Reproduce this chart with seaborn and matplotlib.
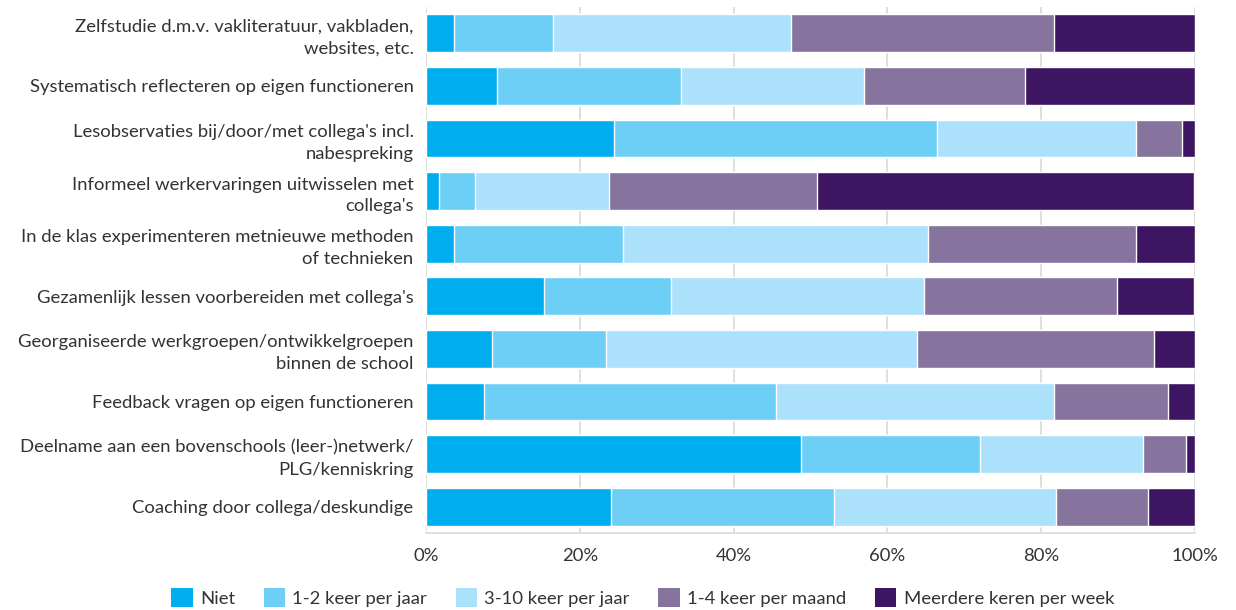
import numpy as np
import pandas as pd
import seaborn as sns
import matplotlib.pyplot as plt
from matplotlib.patches import Patch
from matplotlib.ticker import FuncFormatter

activiteiten = [
    "Zelfstudie d.m.v. vakliteratuur, vakbladen,\nwebsites, etc.",
    "Systematisch reflecteren op eigen functioneren",
    "Lesobservaties bij/door/met collega's incl.\nnabespreking",
    "Informeel werkervaringen uitwisselen met\ncollega's",
    "In de klas experimenteren metnieuwe methoden\nof technieken",
    "Gezamenlijk lessen voorbereiden met collega's",
    "Georganiseerde werkgroepen/ontwikkelgroepen\nbinnen de school",
    "Feedback vragen op eigen functioneren",
    "Deelname aan een bovenschools (leer-)netwerk/\nPLG/kenniskring",
    "Coaching door collega/deskundige",
]

niet = [3.6, 9.2, 24.4, 1.7, 3.6, 15.3, 8.6, 7.5, 48.7, 24.0]
keer_1_2_jaar = [12.9, 24.0, 42.0, 4.7, 22.0, 16.5, 14.8, 38.0, 23.4, 29.1]
keer_3_10_jaar = [30.9, 23.8, 25.9, 17.4, 39.7, 33.0, 40.5, 36.2, 21.1, 28.8]
keer_1_4_maand = [34.3, 20.9, 6.0, 27.0, 27.0, 25.1, 30.8, 14.8, 5.6, 12.0]
meerdere_week = [18.3, 22.1, 1.7, 49.1, 7.7, 10.0, 5.3, 3.5, 1.2, 6.1]

reeksen = ["Niet", "1-2 keer per jaar", "3-10 keer per jaar",
           "1-4 keer per maand", "Meerdere keren per week"]
kleuren = ["#00AEEF", "#6DCFF6", "#ABE1FA", "#86739E", "#3E1562"]

df = pd.DataFrame({
    "activiteit": activiteiten,
    reeksen[0]: niet,
    reeksen[1]: keer_1_2_jaar,
    reeksen[2]: keer_3_10_jaar,
    reeksen[3]: keer_1_4_maand,
    reeksen[4]: meerdere_week,
})
# cumulatieve sommen, zodat we van achter naar voren kunnen stapelen
cum = df[reeksen].cumsum(axis=1)
cum["activiteit"] = df["activiteit"]

sns.set_style("white")
plt.rcParams["font.family"] = ["Lato", "DejaVu Sans"]
fs = 13.3

fig, ax = plt.subplots(figsize=(12.36, 6.10), dpi=100)
fig.subplots_adjust(left=0.3447, right=0.9668, top=0.9885, bottom=0.1262)

for reeks, kleur in reversed(list(zip(reeksen, kleuren))):
    sns.barplot(data=cum, y="activiteit", x=reeks, color=kleur, orient="h",
                width=0.72, saturation=1, ax=ax, zorder=3)

ax.set_xlim(0, 100)
ax.set_ylim(9.5, -0.5)
ax.set_xticks(np.arange(0, 101, 20))
ax.xaxis.set_major_formatter(FuncFormatter(lambda v, p: f"{v:.0f}%"))
ax.grid(axis="x", color="#d9d9d9", linewidth=1.2, zorder=0)
ax.set_axisbelow(True)
ax.set_xlabel("")
ax.set_ylabel("")
for s in ["top", "right", "left"]:
    ax.spines[s].set_visible(False)
ax.spines["bottom"].set_color("#d9d9d9")
ax.spines["bottom"].set_linewidth(1.2)
ax.tick_params(axis="both", length=0, colors="#333333", labelsize=fs)
ax.tick_params(axis="y", pad=9)
ax.tick_params(axis="x", pad=11)
for lbl in ax.get_yticklabels():
    lbl.set_linespacing(1.45)

handles = [Patch(facecolor=k, edgecolor="none") for k in kleuren]
fig.legend(handles, reeksen, loc="lower center", bbox_to_anchor=(0.52, -0.022),
           ncol=5, frameon=False, handlelength=1.15, handleheight=1.15,
           handletextpad=0.4, columnspacing=1.55, fontsize=fs,
           labelcolor="#333333")

plt.savefig("out.png", dpi=100)
